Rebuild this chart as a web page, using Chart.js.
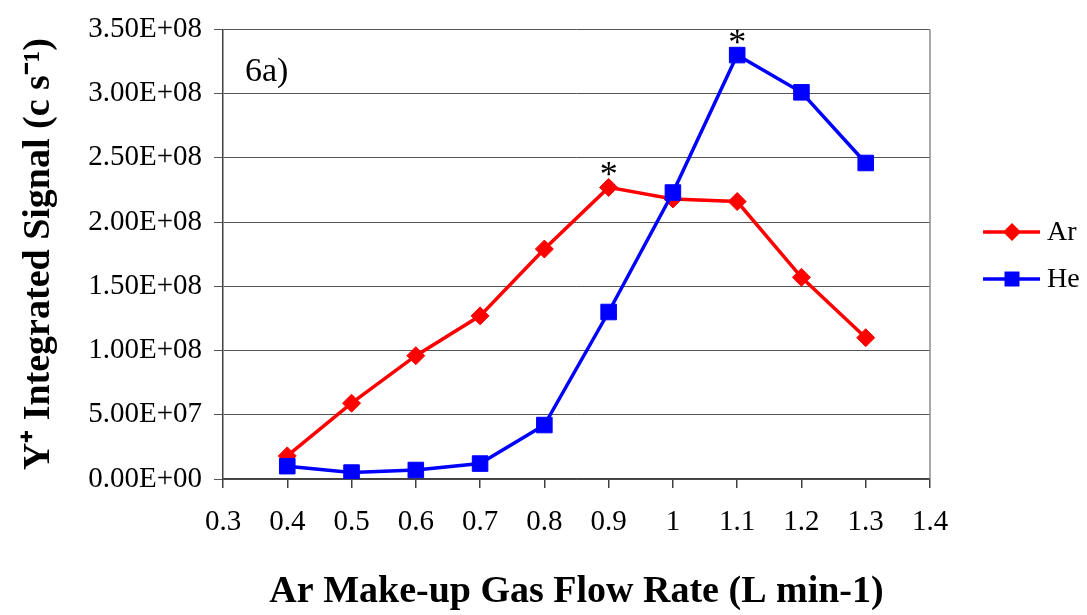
<!DOCTYPE html>
<html>
<head>
<meta charset="utf-8">
<script src="https://cdn.jsdelivr.net/npm/chart.js@4/dist/chart.umd.min.js"></script>
<style>
  body { margin: 0; background: #fff; }
  canvas { display: block; }
</style>
</head>
<body>
<canvas id="chart" width="1087" height="615"></canvas>
<script>
// Y+ signal vs Ar make-up gas flow (fig 6a)
const flowRates = [0.4, 0.5, 0.6, 0.7, 0.8, 0.9, 1.0, 1.1, 1.2, 1.3];
const arSignal = [1.8e7, 5.9e7, 9.6e7, 1.27e8, 1.79e8, 2.27e8, 2.18e8, 2.16e8, 1.57e8, 1.10e8];
const heSignal = [1.0e7, 5e6, 7e6, 1.2e7, 4.2e7, 1.30e8, 2.23e8, 3.30e8, 3.01e8, 2.46e8];
const xTicks = [0.3, 0.4, 0.5, 0.6, 0.7, 0.8, 0.9, 1.0, 1.1, 1.2, 1.3, 1.4];
const yTicks = [0, 5e7, 1e8, 1.5e8, 2e8, 2.5e8, 3e8, 3.5e8];

const serif = 'Liberation Serif';

function sciLabel(v) {
    if (v === 0) return '0.00E+00';
    const e = Math.floor(Math.log10(v) + 1e-9);
    const m = v / Math.pow(10, e);
    return m.toFixed(2) + 'E+' + String(e).padStart(2, '0');
}

function toPoints(ys) {
    return flowRates.map((x, i) => ({ x: x, y: ys[i] }));
}

// asterisks over each series maximum, the panel tag, border and legend
const extras = {
    id: 'extras',
    afterDraw(chart) {
        const ctx = chart.ctx;
        const area = chart.chartArea;
        const xs = chart.scales.x, ys = chart.scales.y;

        ctx.save();
        ctx.strokeStyle = '#8c8c8c';
        ctx.lineWidth = 1.5;
        ctx.beginPath();
        ctx.moveTo(area.right, area.top);
        ctx.lineTo(area.right, area.bottom);
        ctx.stroke();

        ctx.fillStyle = '#000';
        ctx.font = '34px "' + serif + '"';
        ctx.textAlign = 'left';
        ctx.textBaseline = 'alphabetic';
        ctx.fillText('6a)', area.left + 22, area.top + 52);

        ctx.font = '36px "' + serif + '"';
        ctx.textAlign = 'center';
        [arSignal, heSignal].forEach(function(series) {
            const i = series.indexOf(Math.max.apply(null, series));
            const px = xs.getPixelForValue(flowRates[i]);
            const py = ys.getPixelForValue(series[i]);
            ctx.fillText('*', px, py - 1);
        });

        // legend: line with marker, like the spreadsheet legend
        chart.data.datasets.forEach(function(ds, k) {
            const y = 232 + k * 47;
            const x0 = 983, x1 = 1040, xm = 1012;
            ctx.strokeStyle = ds.borderColor;
            ctx.lineWidth = ds.borderWidth;
            ctx.beginPath();
            ctx.moveTo(x0, y);
            ctx.lineTo(x1, y);
            ctx.stroke();
            ctx.fillStyle = ds.borderColor;
            ctx.beginPath();
            if (ds.pointStyle === 'rectRot') {
                ctx.moveTo(xm, y - 9);
                ctx.lineTo(xm + 9, y);
                ctx.lineTo(xm, y + 9);
                ctx.lineTo(xm - 9, y);
                ctx.closePath();
            } else {
                ctx.rect(xm - 7.5, y - 7.5, 15, 15);
            }
            ctx.fill();
            ctx.fillStyle = '#000';
            ctx.font = '28px "' + serif + '"';
            ctx.textAlign = 'left';
            ctx.textBaseline = 'middle';
            ctx.fillText(ds.label, 1047, y + 1);
        });
        ctx.restore();
    }
};

new Chart(document.getElementById('chart').getContext('2d'), {
    type: 'line',
    data: {
        datasets: [
            {
                label: 'Ar',
                data: toPoints(arSignal),
                borderColor: '#ff0000',
                backgroundColor: '#ff0000',
                borderWidth: 3.5,
                pointStyle: 'rectRot',
                pointRadius: 9,
                pointBorderWidth: 1,
                order: 1
            },
            {
                label: 'He',
                data: toPoints(heSignal),
                borderColor: '#0000ff',
                backgroundColor: '#0000ff',
                borderWidth: 3.5,
                pointStyle: 'rect',
                pointRadius: 11,
                pointBorderWidth: 1,
                order: 0
            }
        ]
    },
    options: {
        responsive: false,
        animation: false,
        devicePixelRatio: 1,
        layout: { padding: { top: 25, right: 157, left: 0, bottom: 0 } },
        plugins: {
            legend: { display: false },
            tooltip: { enabled: false }
        },
        scales: {
            x: {
                type: 'linear',
                min: 0.3,
                max: 1.4,
                afterBuildTicks: function(scale) {
                    scale.ticks = xTicks.map(v => ({ value: v }));
                },
                afterFit: function(scale) { scale.height = 136; },
                ticks: {
                    color: '#000',
                    font: { family: serif, size: 29 },
                    padding: 17,
                    maxRotation: 0,
                    autoSkip: false,
                    callback: function(v) { return String(Number(v.toFixed(1))); }
                },
                grid: {
                    drawOnChartArea: false,
                    color: '#404040',
                    tickLength: 9,
                    lineWidth: 1.5
                },
                border: { color: '#404040', width: 1.5 },
                title: {
                    display: true,
                    text: 'Ar Make-up Gas Flow Rate (L min-1)',
                    color: '#000',
                    font: { family: serif, size: 38, weight: 'bold' },
                    padding: { top: 0, bottom: 0 }
                }
            },
            y: {
                min: 0,
                max: 3.5e8,
                afterBuildTicks: function(scale) {
                    scale.ticks = yTicks.map(v => ({ value: v }));
                },
                afterFit: function(scale) { scale.width = 223; },
                ticks: {
                    color: '#000',
                    font: { family: serif, size: 29 },
                    padding: 12,
                    callback: function(v) { return sciLabel(v); }
                },
                grid: {
                    color: '#555',
                    lineWidth: 1,
                    tickLength: 9
                },
                border: { color: '#404040', width: 1.5 },
                title: {
                    display: true,
                    text: 'Y\u207A Integrated Signal (c s\u207B\u00B9)',
                    color: '#000',
                    font: { family: serif, size: 38, weight: 'bold' },
                    padding: { top: 16, bottom: 0 }
                }
            }
        }
    },
    plugins: [extras]
});
</script>
</body>
</html>
